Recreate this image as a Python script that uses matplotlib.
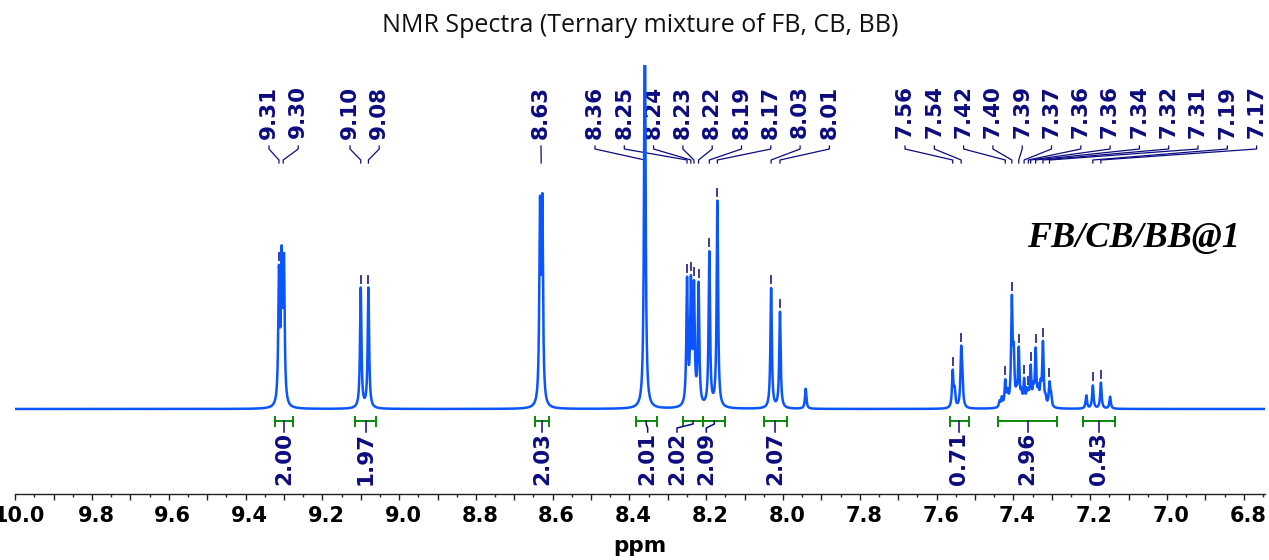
import numpy as np
import matplotlib
matplotlib.use("Agg")
import matplotlib.pyplot as plt
from matplotlib.ticker import MultipleLocator, FuncFormatter
from matplotlib.transforms import ScaledTranslation

# peak list: shift (ppm) and height (baseline = 0)
shifts = [9.313, 9.306, 9.300,
          9.100, 9.080,
          8.633, 8.627,
          8.360,
          8.250, 8.240, 8.232, 8.220, 8.192, 8.171,
          8.031, 8.008, 7.941,
          7.558, 7.553, 7.536, 7.533,
          7.436, 7.430, 7.421, 7.415, 7.404, 7.399, 7.392, 7.386, 7.379,
          7.372, 7.365, 7.361, 7.355, 7.348, 7.342, 7.335, 7.329, 7.323,
          7.316, 7.306, 7.302,
          7.210, 7.193, 7.172, 7.148]
heights = [128, 136, 136,
           120, 120,
           190, 193,
           430,
           124, 118, 114, 120, 154, 206,
           120, 96, 20,
           36, 16, 54, 24,
           6, 9, 25, 12, 104, 46, 9, 56, 11,
           25, 13, 9, 38, 15, 55, 15, 18, 63,
           7, 23, 11,
           13, 23, 26, 12]
hwhm = 0.0022

# peak picking labels and the peak each one points at
peak_labels = ["9.31", "9.30", "9.10", "9.08", "8.63", "8.36", "8.25", "8.24",
               "8.23", "8.22", "8.19", "8.17", "8.03", "8.01", "7.56", "7.54",
               "7.42", "7.40", "7.39", "7.37", "7.36", "7.36", "7.34", "7.32",
               "7.31", "7.19", "7.17"]
peak_targets = [9.313, 9.302, 9.100, 9.080, 8.630, 8.360, 8.250, 8.240,
                8.232, 8.220, 8.192, 8.171, 8.031, 8.008, 7.558, 7.536,
                7.421, 7.404, 7.386, 7.372, 7.361, 7.355, 7.342, 7.323,
                7.306, 7.193, 7.172]

# integrals: range (ppm) and value
int_from = [9.323, 9.115, 8.646, 8.384, 8.261, 8.208, 8.050, 7.565, 7.439, 7.218]
int_to = [9.277, 9.060, 8.609, 8.329, 8.208, 8.150, 7.990, 7.516, 7.287, 7.135]
int_values = ["2.00", "1.97", "2.03", "2.01", "2.02", "2.09", "2.07", "0.71", "2.96", "0.43"]


# pixel helpers for layout (x: 383.9 px per ppm, 9.8 ppm at 92 px; baseline at 409 px)
def px2ppm(x):
    return 9.8 - (x - 92) / 383.9


def ppm2px(p):
    return 92 + (9.8 - p) * 383.9


def py(P):
    return 409 - P


blue = "#0a55ff"
navy = "#0c0c80"
green = "#0a8a0a"

fig = plt.figure(figsize=(12.69, 5.6), dpi=100)
ax = fig.add_axes([15 / 1269, (560 - 494) / 560, 1250 / 1269, 429 / 560])
ax.set_xlim(px2ppm(15), px2ppm(1265))
ax.set_ylim(py(494), py(65))

x = np.linspace(10.05, 6.70, 40000)
y = np.zeros_like(x)
for s, h in zip(shifts, heights):
    y += h / (1 + ((x - s) / hwhm) ** 2)
ax.plot(x, y, color=blue, lw=1.8, zorder=3)

# peak labels
label_px = []
groups = [(269, 2), (350, 2), (541, 1), (595, 9), (905, 13)]
for start, n in groups:
    spacing = 29.3 if n > 2 else 29.2
    label_px += [start + i * spacing for i in range(n)]

for txt, lx, t in zip(peak_labels, label_px, peak_targets):
    lp = px2ppm(lx)
    ax.text(lp, py(112), txt, rotation=90, ha="center", va="center",
            fontsize=15.5, fontweight="bold", color=navy, zorder=2)
    ax.plot([lp, lp, t, t], [py(146), py(149), py(160), py(163)],
            color=navy, lw=0.9, zorder=2)
    top = np.interp(t, x[::-1], y[::-1])
    if top < 330:
        ax.plot([t, t], [top + 5, top + 12], color=navy, lw=1.4, alpha=0.8, zorder=2)

# integrals
label_shift = [0, 0, 0, 1.5, -16, -8, 0, 0, 0, 0]
for a, b, v, sh in zip(int_from, int_to, int_values, label_shift):
    ax.plot([a, b], [py(421), py(421)], color=green, lw=1.4, zorder=2)
    for e in (a, b):
        ax.plot([e, e], [py(416.5), py(425.5)], color=green, lw=1.4, zorder=2)
    mid = (a + b) / 2
    lx = px2ppm(ppm2px(mid) + sh)
    ax.plot([mid, mid, lx, lx], [py(421), py(424), py(428), py(432)],
            color=navy, lw=1.1, zorder=2)
    ax.text(lx, py(432), v, rotation=90, ha="center", va="top",
            fontsize=15.5, fontweight="bold", color=navy, zorder=2)

ax.text(px2ppm(1240), py(238), "FB/CB/BB@1", ha="right", va="center",
        fontsize=26, fontweight="bold", fontstyle="italic",
        family="Liberation Serif", color="black")

for side in ("left", "right", "top"):
    ax.spines[side].set_visible(False)
ax.spines["bottom"].set_color("#222222")
ax.spines["bottom"].set_linewidth(1.0)
ax.set_yticks([])
ax.xaxis.set_major_locator(MultipleLocator(0.1))
ax.xaxis.set_minor_locator(MultipleLocator(0.05))
ax.xaxis.set_major_formatter(FuncFormatter(
    lambda v, pos: f"{v:.1f}" if round(v * 10) % 2 == 0 else ""))
ax.tick_params(axis="x", which="major", length=4.5, width=1, color="#222222",
               pad=4, labelsize=15)
ax.tick_params(axis="x", which="minor", length=2.5, width=1, color="#222222")
shift = ScaledTranslation(4 / 100, 0, fig.dpi_scale_trans)
for lab in ax.get_xticklabels():
    lab.set_fontweight("bold")
    lab.set_transform(lab.get_transform() + shift)
ax.set_xlabel("ppm", fontsize=15.5, fontweight="bold", labelpad=7)

fig.text(640 / 1269, 1 - 26 / 560, "NMR Spectra (Ternary mixture of FB, CB, BB)",
         ha="center", va="center", fontsize=18, family="Open Sans", color="#111111")

fig.savefig("out.png", dpi=100)
